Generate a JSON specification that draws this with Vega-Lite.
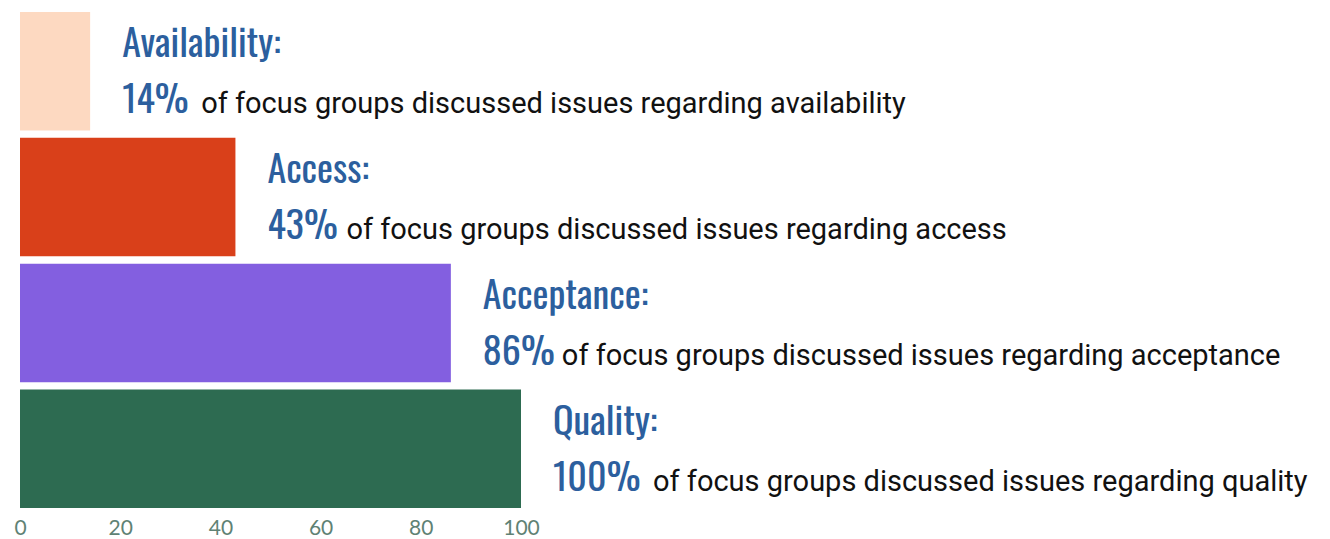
{
  "$schema": "https://vega.github.io/schema/vega-lite/v6.json",
  "width": 501,
  "height": 496,
  "autosize": {"type": "none"},
  "padding": {"left": 20, "top": 12, "right": 809, "bottom": 31},
  "background": "white",
  "config": {"view": {"stroke": null}},
  "data": {
    "values": [
      {"category": "Availability", "value": 14, "title": "Availability:", "pct": "14%", "desc": "of focus groups discussed issues regarding availability"},
      {"category": "Access", "value": 43, "title": "Access:", "pct": "43%", "desc": "of focus groups discussed issues regarding access"},
      {"category": "Acceptance", "value": 86, "title": "Acceptance:", "pct": "86%", "desc": "of focus groups discussed issues regarding acceptance"},
      {"category": "Quality", "value": 100, "title": "Quality:", "pct": "100%", "desc": "of focus groups discussed issues regarding quality"}
    ]
  },
  "encoding": {
    "y": {
      "field": "category",
      "type": "nominal",
      "sort": ["Availability", "Access", "Acceptance", "Quality"],
      "scale": {"paddingInner": 0.058, "paddingOuter": 0},
      "axis": null
    },
    "x": {
      "field": "value",
      "type": "quantitative",
      "scale": {"domain": [0, 100], "nice": false},
      "axis": {
        "values": [0, 20, 40, 60, 80, 100],
        "domain": false,
        "ticks": false,
        "grid": false,
        "title": null,
        "labelFont": "Lato",
        "labelFontSize": 21,
        "labelColor": "#5f8274",
        "labelPadding": 9,
        "labelFlush": false
      }
    }
  },
  "layer": [
    {
      "mark": {"type": "bar"},
      "encoding": {
        "color": {
          "field": "category",
          "type": "nominal",
          "scale": {"domain": ["Availability", "Access", "Acceptance", "Quality"], "range": ["#fdd9c1", "#d9401a", "#835fe0", "#2d6b51"]},
          "legend": null
        }
      }
    },
    {
      "mark": {"type": "text", "align": "left", "baseline": "alphabetic", "dx": 32, "dy": -14, "font": "Oswald, Roboto Condensed, DejaVu Sans Condensed", "fontSize": 38, "color": "#2c5f9e"},
      "encoding": {"text": {"field": "title"}}
    },
    {
      "mark": {"type": "text", "align": "left", "baseline": "alphabetic", "dx": 32, "dy": 42, "font": "Oswald, Roboto Condensed, DejaVu Sans Condensed", "fontSize": 38, "color": "#2c5f9e"},
      "encoding": {"text": {"field": "pct"}}
    },
    {
      "mark": {"type": "text", "align": "left", "baseline": "alphabetic", "dx": {"expr": "48 + 21 * length(datum.pct)"}, "dy": 42, "font": "Roboto", "fontSize": 29, "color": "#111111"},
      "encoding": {"text": {"field": "desc"}}
    }
  ]
}
